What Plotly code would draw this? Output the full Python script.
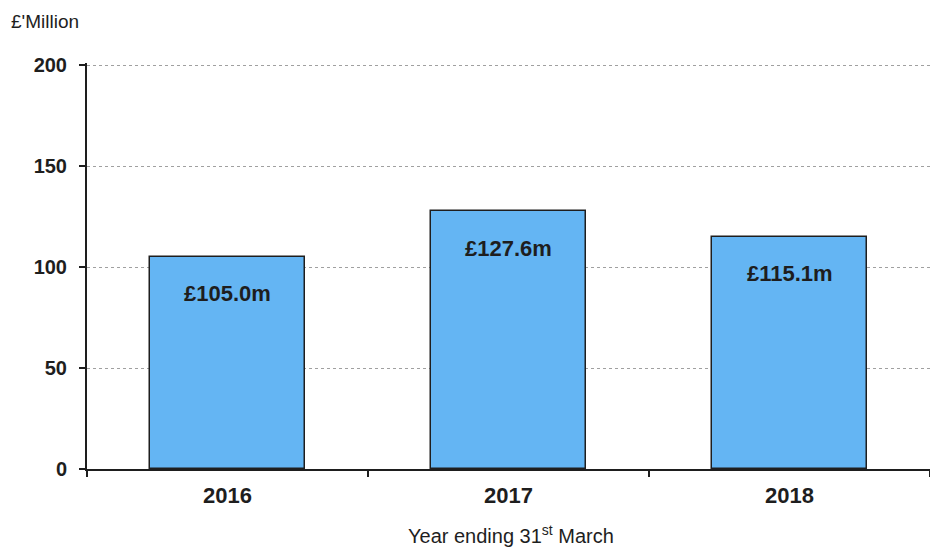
import plotly.graph_objects as go

# Annual totals, £ million
years = ["2016", "2017", "2018"]
values = [105.0, 127.6, 115.1]
labels = ["£105.0m", "£127.6m", "£115.1m"]
y_ticks = [0, 50, 100, 150, 200]

FONT = "Arial, Liberation Sans, sans-serif"
INK = "#1e1e1e"

fig = go.Figure()
fig.add_trace(go.Bar(
    x=years,
    y=values,
    width=0.555,
    marker=dict(color="#64B5F3", line=dict(color=INK, width=1.5)),
    hoverinfo="skip",
))

# value labels sitting just inside the top of each bar (x by category index)
for i, (v, lab) in enumerate(zip(values, labels)):
    fig.add_annotation(
        x=i, y=v, text=f"<b>{lab}</b>", showarrow=False,
        yanchor="middle", yshift=-37,
        font=dict(family=FONT, size=22, color=INK),
    )

# axis titles
fig.add_annotation(
    xref="paper", yref="paper", x=-0.093, y=1.103,
    xanchor="left", yanchor="middle", showarrow=False,
    text="£'Million", font=dict(family=FONT, size=19, color=INK),
)
fig.add_annotation(
    xref="paper", yref="paper", x=0.503, y=-0.162,
    xanchor="center", yanchor="middle", showarrow=False,
    text="Year ending 31<sup>st</sup> March",
    font=dict(family=FONT, size=20, color=INK),
)

fig.update_layout(
    width=930, height=547,
    margin=dict(l=87, r=0, t=63, b=78),
    paper_bgcolor="white", plot_bgcolor="white",
    showlegend=False,
    bargap=0,
)
fig.update_xaxes(
    type="category",
    range=[-0.5, 2.5],
    tickson="boundaries",
    ticks="outside", ticklen=6, tickcolor=INK, tickwidth=1.5,
    ticklabelstandoff=6,
    showline=True, linecolor=INK, linewidth=2,
    showgrid=False,
    tickfont=dict(family=FONT, size=22, color=INK, weight="bold"),
)
fig.update_yaxes(
    range=[0, 201],
    tickmode="array", tickvals=y_ticks, ticktext=[f"<b>{t}</b>" for t in y_ticks],
    ticks="outside", ticklen=6, tickcolor=INK, tickwidth=1.5,
    ticklabelstandoff=8,
    showline=True, linecolor=INK, linewidth=2,
    showgrid=True, gridcolor="#a0a0a0", gridwidth=1, griddash="dot",
    zeroline=False,
    tickfont=dict(family=FONT, size=20, color=INK),
)

fig.write_html("out.html")
